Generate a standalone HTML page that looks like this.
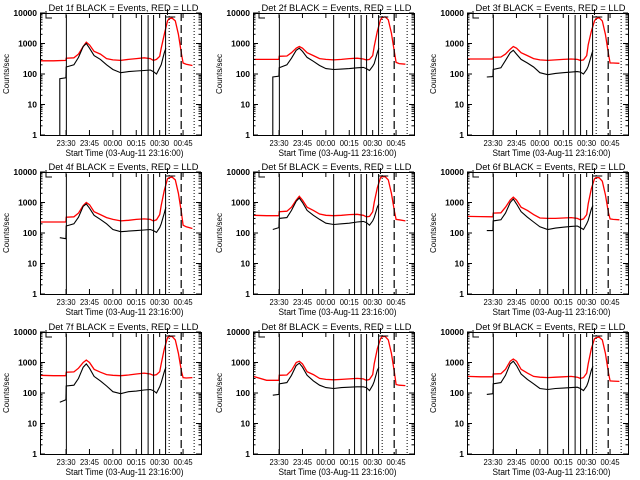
<!DOCTYPE html>
<html><head><meta charset="utf-8"><style>
body{margin:0;background:#fff}
svg{display:block;font-family:"Liberation Sans",sans-serif}
</style></head><body>
<svg id="c" width="640" height="480" viewBox="0 0 640 480"></svg>
<script>
const redTimes=[13.5,22,29.9,30.1,35,38,41,43,45,48,52,56,60,65,70,75,80,84,86,88,90,91,93,95,96,98,100,102,104,105,107,111];
const blackTimes=[26,29.9,30.1,35,38,41,43,45,48,52,56,60,65,70,75,80,84,86,88,90,91,93,94];
const redP1=[270,270,280,330,340,450,800,1100,900,550,450,320,290,280,300,320,340,320,280,300,380,700,2000,5500,6500,6800,5500,2000,450,230,210,190];
const redP2=[300,300,300,380,390,500,700,800,700,500,400,320,300,290,300,320,330,310,290,300,400,800,2500,6000,7000,7500,6000,2200,500,240,220,210];
const redP3=[310,310,310,350,360,450,650,800,700,500,400,320,290,280,290,300,310,300,280,290,400,900,2500,5500,6500,7000,5500,2000,450,230,230,225];
const redP4=[230,230,230,330,340,450,800,1000,850,500,400,320,280,250,260,280,290,280,250,270,400,800,2500,6000,6500,6800,5500,2000,450,180,160,140];
const redP5=[380,370,370,500,520,700,1200,1600,1200,700,550,420,380,370,380,400,410,380,340,350,500,1000,3000,6500,7000,7000,5500,2000,500,280,270,250];
const redP6=[350,345,340,450,460,700,1200,1500,1200,700,550,400,310,300,300,310,320,300,270,290,400,900,2800,6000,6500,6500,5000,1800,450,290,280,270];
const redP7=[380,370,370,480,490,650,1000,1200,1000,600,480,400,380,370,390,420,450,420,380,400,500,900,2800,6500,7000,7200,5500,2000,500,320,310,320];
const redP8=[350,260,260,380,390,550,1000,1100,900,500,400,300,280,270,280,290,300,290,260,280,400,900,2800,6000,7000,7200,5500,2000,450,190,180,175];
const redP9=[350,340,340,420,430,600,1100,1300,1100,600,450,350,330,320,330,340,350,330,300,320,450,900,2800,6000,6500,6800,5500,2000,450,250,245,240];
const blackP1=[70,75,170,200,350,800,1000,700,400,300,200,140,110,120,125,130,135,120,100,160,200,500,700];
const blackP2=[80,85,160,200,330,600,700,550,350,260,190,150,140,145,150,160,165,150,130,180,220,500,700];
const blackP3=[80,82,140,160,280,500,600,450,300,230,170,110,95,105,110,115,120,115,100,140,180,400,600];
const blackP4=[70,65,170,200,330,750,900,650,380,280,200,130,110,115,120,125,130,120,105,150,200,450,700];
const blackP5=[130,150,300,320,550,1100,1400,1000,550,380,280,210,190,200,210,230,240,220,180,250,320,700,900];
const blackP6=[120,120,250,270,450,1000,1300,900,500,330,230,160,130,145,155,165,170,150,130,200,260,600,800];
const blackP7=[50,60,170,180,300,700,900,650,350,250,170,110,95,110,115,125,130,120,100,160,220,500,700];
const blackP8=[85,90,200,220,380,800,950,700,380,250,180,150,140,150,155,160,160,150,120,180,240,550,700];
const blackP9=[90,95,200,220,380,900,1100,800,420,280,200,140,130,140,145,150,155,140,120,170,230,550,750];
const blackFromZero=[true,true,false,false,false,false,false,false,false];
const reds=[redP1,redP2,redP3,redP4,redP5,redP6,redP7,redP8,redP9];
const blacks=[blackP1,blackP2,blackP3,blackP4,blackP5,blackP6,blackP7,blackP8,blackP9];
const detNames=["1f","2f","3f","4f","5f","6f","7f","8f","9f"];
const tickTimes=[30,45,60,75,90,105];
const tickLabels=["23:30","23:45","00:00","00:15","00:30","00:45"];
const yTicks=[1,10,100,1000,10000];
const yTickLabels=["1","10","100","1000","10000"];
const solidLineTimes=[30.2,65,78.4,82.6,86.1,93.8];
const dottedLineTimes=[96.1,112.1];
const dashedLineTimes=[103.8];

const NS="http://www.w3.org/2000/svg";
const svg=document.getElementById('c');
const W=161,H=122,T0=13.3,T1=116.5;
const colX=[40,253,467],rowY=[13,172,332];
function mk(tag,attrs,parent){const e=document.createElementNS(NS,tag);for(const k in attrs)e.setAttribute(k,attrs[k]);(parent||svg).appendChild(e);return e;}
for(let p=0;p<9;p++){
  const x0=colX[p%3],y0=rowY[Math.floor(p/3)];
  const xs=t=>x0+(t-T0)/(T1-T0)*W;
  const ys=v=>y0+H-Math.log10(v)/4*H;
  const g=mk('g',{});
  
  
  const clipId='cl'+p;
  const cp=mk('clipPath',{id:clipId},g);mk('rect',{x:x0,y:y0,width:W,height:H},cp);
  let d=redTimes.map((t,i)=>(i?'L':'M')+xs(t).toFixed(1)+','+ys(reds[p][i]).toFixed(1)).join('');
  const r=mk('path',{d:d,fill:'none',stroke:'#f00','stroke-width':1.3,'clip-path':'url(#'+clipId+')'},g);
  
  
  d=(blackFromZero[p]?'M'+xs(blackTimes[0]).toFixed(1)+','+(y0+H)+'L':'M')+blackTimes.map((t,i)=>(i?'L':'')+xs(t).toFixed(1)+','+ys(blacks[p][i]).toFixed(1)).join('');
  const b=mk('path',{d:d,fill:'none',stroke:'#000','stroke-width':1.1,'clip-path':'url(#'+clipId+')'},g);
  
  
  solidLineTimes.forEach(t=>{const l=mk('line',{x1:xs(t),x2:xs(t),y1:y0+2,y2:y0+H,stroke:'#000','stroke-width':1},g);
    
    });
  dottedLineTimes.forEach(t=>{const l=mk('line',{x1:xs(t),x2:xs(t),y1:y0,y2:y0+H,stroke:'#000','stroke-width':1,'stroke-dasharray':'1,2'},g);
    
    });
  dashedLineTimes.forEach(t=>{const l=mk('line',{x1:xs(t),x2:xs(t),y1:y0,y2:y0+H,stroke:'#000','stroke-width':1.2,'stroke-dasharray':'8,4'},g);
    
    });
  mk('path',{d:`M${x0+6},${y0-2}V${y0+5}H${x0+12}M${xs(93.5)},${y0+4}H${xs(100)}M${xs(95)},${y0-4}V${y0+2}`,fill:'none',stroke:'#000','stroke-width':1},g);
  const f=mk('rect',{x:x0+0.5,y:y0+0.5,width:W,height:H,fill:'none',stroke:'#000','stroke-width':1},g);
  
  
  yTicks.forEach((v,i)=>{const y=ys(v);
    mk('line',{x1:x0,x2:x0+5,y1:y,y2:y,stroke:'#000'},g);mk('line',{x1:x0+W-5,x2:x0+W,y1:y,y2:y,stroke:'#000'},g);
    const tx=mk('text',{x:x0-3,y:y+3,'text-anchor':'end','font-size':8.5,'font-weight':'bold'},g);tx.textContent=yTickLabels[i];
    
    
    if(i<4)for(let m=2;m<10;m++){const ym=ys(v*m);mk('line',{x1:x0,x2:x0+2.5,y1:ym,y2:ym,stroke:'#000'},g);mk('line',{x1:x0+W-2.5,x2:x0+W,y1:ym,y2:ym,stroke:'#000'},g);}
  });
  tickTimes.forEach((t,i)=>{const x=xs(t);
    mk('line',{x1:x,x2:x,y1:y0+H,y2:y0+H-5,stroke:'#000'},g);mk('line',{x1:x,x2:x,y1:y0,y2:y0+5,stroke:'#000'},g);
    const tx=mk('text',{x:x,y:y0+H+11,'text-anchor':'middle','font-size':8,'textLength':19,'lengthAdjust':'spacingAndGlyphs'},g);tx.textContent=tickLabels[i];
    
    
  });
  const xt=mk('text',{x:x0+W/2+4,y:y0+H+21,'text-anchor':'middle','font-size':9,'textLength':118,'lengthAdjust':'spacingAndGlyphs'},g);
  xt.textContent='Start Time (03-Aug-11 23:16:00)';
  
  
  const yt=mk('text',{x:0,y:0,'text-anchor':'middle','font-size':8,transform:`translate(${x0-31},${y0+H/2}) rotate(-90)`},g);
  yt.textContent='Counts/sec';
  
  
  const tt=mk('text',{x:x0+W/2+3,y:y0-2,'text-anchor':'middle','font-size':9.5,'textLength':150,'lengthAdjust':'spacingAndGlyphs'},g);
  tt.textContent='Det '+detNames[p]+' BLACK = Events, RED = LLD';
  
  
}
</script>
</body></html>
